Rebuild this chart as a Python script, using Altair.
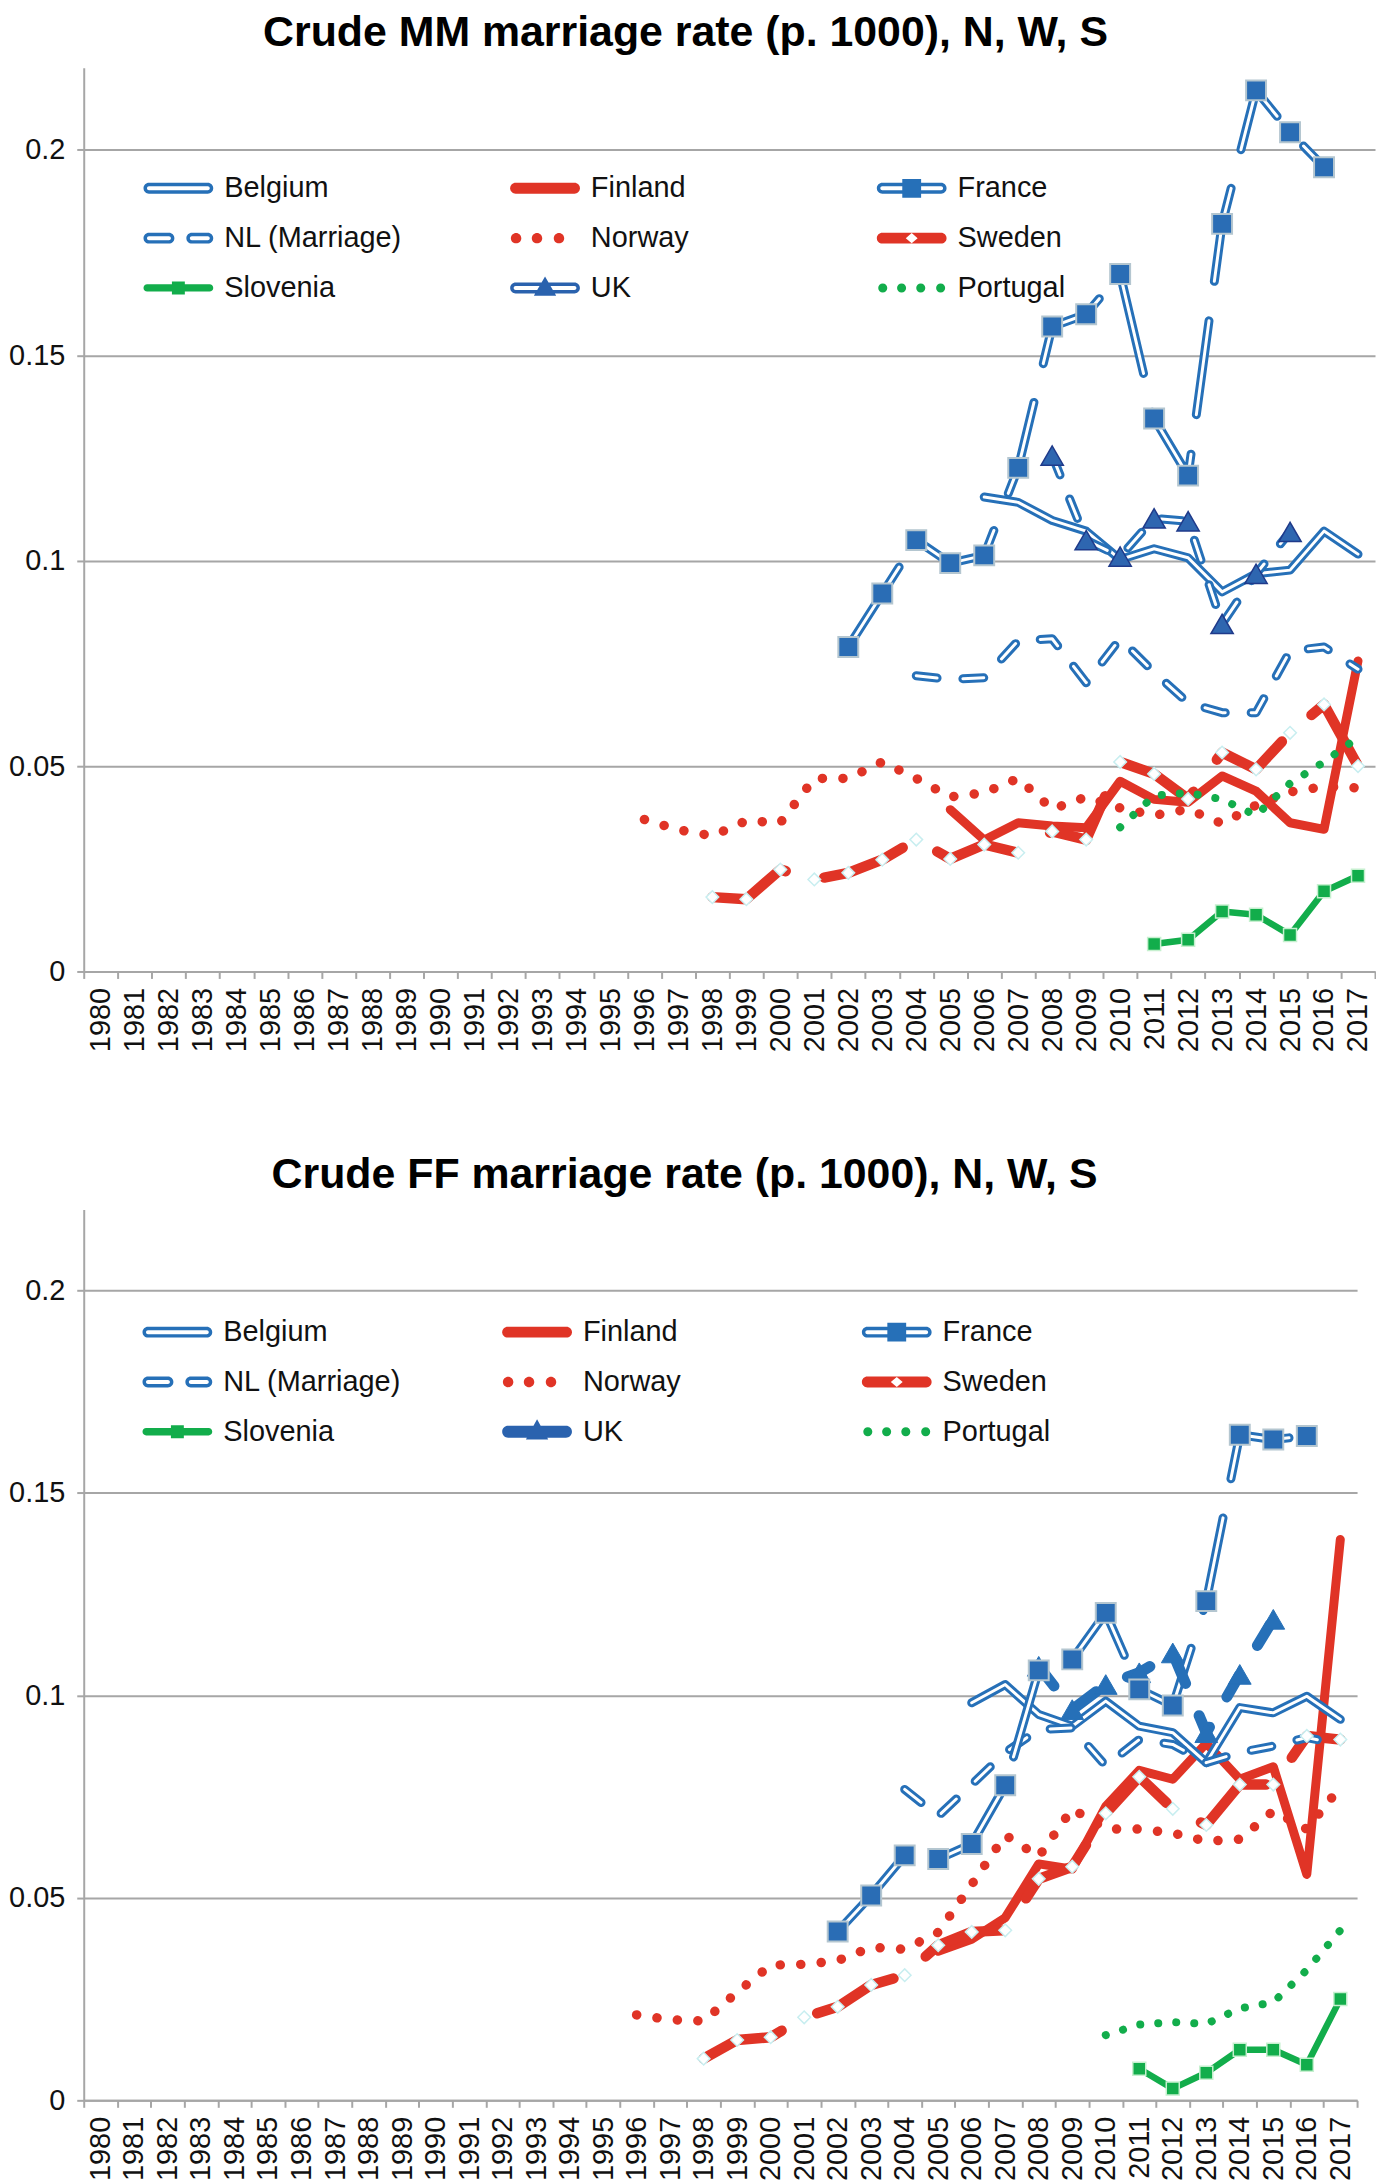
import altair as alt
import pandas as pd

FONT = "Liberation Sans, Arial, Helvetica, sans-serif"
BLUE = "#2670B8"
RED = "#E03426"
GREEN = "#12AD4B"
GRID = "#A6A6A6"

years = list(range(1980, 2018))
# legend order (filled column by column: Belgium/NL/Slovenia, Finland/Norway/UK, France/Sweden/Portugal)
series_order = ["Belgium", "NL (Marriage)", "Slovenia", "Finland", "Norway", "UK",
                "France", "Sweden", "Portugal"]

# ---------- Crude MM marriage rate (values per series, first year given) ----------
mm_start = {"Belgium": 2006, "France": 2002, "NL (Marriage)": 2004, "UK": 2008,
            "Finland": 2005, "Norway": 1996, "Sweden": 1998, "Slovenia": 2011,
            "Portugal": 2010}
mm_belgium = [0.1155, 0.1142, 0.1098, 0.1072, 0.1003, 0.1029, 0.1007, 0.0924,
              0.0968, 0.0977, 0.1072, 0.1016]
mm_france = [0.079, 0.092, 0.105, 0.0994, 0.1013, 0.1226, 0.157, 0.160, 0.1698,
             0.1346, 0.1207, 0.182, 0.2145, 0.2043, 0.1958]
mm_nl = [0.072, 0.0711, 0.0715, 0.0805, 0.081, 0.0703, 0.081, 0.0728, 0.0654,
         0.063, 0.063, 0.078, 0.079, 0.0736]
mm_uk = [0.1256, 0.105, 0.101, 0.1103, 0.1096, 0.0846, 0.0968, 0.107]
mm_finland = [0.0394, 0.032, 0.0362, 0.0354, 0.035, 0.0463, 0.0419, 0.0412,
              0.0476, 0.0439, 0.0362, 0.0346, 0.0756]
mm_norway = [0.037, 0.0345, 0.033, 0.0367, 0.0362, 0.047, 0.047, 0.051, 0.047,
             0.0425, 0.0435, 0.047, 0.0395, 0.0425, 0.0398, 0.038, 0.0395, 0.036,
             0.0405, 0.0437, 0.045, 0.0447]
mm_sweden = [0.0181, 0.0176, 0.0248, 0.0224, 0.024, 0.0272, 0.0321, 0.0274,
             0.0309, 0.0289, 0.0341, 0.0321, 0.051, 0.0481, 0.042, 0.0533, 0.0492,
             0.0581, 0.065, 0.050]
mm_slovenia = [0.0067, 0.0077, 0.0146, 0.0138, 0.0089, 0.0195, 0.0233]
mm_portugal = [0.0351, 0.0428, 0.0435, 0.0419, 0.038, 0.0458, 0.051, 0.057]

# ---------- Crude FF marriage rate ----------
ff_start = dict(mm_start)
ff_belgium = [0.0982, 0.1027, 0.0953, 0.0924, 0.0986, 0.0924, 0.0908, 0.0834,
              0.097, 0.0957, 0.0998, 0.0941]
ff_france = [0.0417, 0.0506, 0.0605, 0.0596, 0.0633, 0.0778, 0.1062, 0.1089,
             0.1204, 0.1015, 0.0975, 0.1233, 0.1644, 0.1632, 0.1641]
ff_nl = [0.0768, 0.0702, 0.078, 0.0859, 0.0916, 0.092, 0.0826, 0.0891, 0.0879,
         0.0834, 0.0859, 0.0875, 0.0896, 0.0879]
ff_uk = [0.1072, 0.0965, 0.1027, 0.1056, 0.1105, 0.0908, 0.1052, 0.1188]
ff_finland = [0.0368, 0.0398, 0.0451, 0.0584, 0.0571, 0.0726, 0.0815, 0.0793,
              0.0882, 0.0793, 0.0824, 0.0558, 0.1385]
ff_norway = [0.0211, 0.0199, 0.0196, 0.0267, 0.0334, 0.0336, 0.0345, 0.0378,
             0.0373, 0.0415, 0.0533, 0.0655, 0.0602, 0.072, 0.067, 0.067, 0.066,
             0.064, 0.0645, 0.0715, 0.067, 0.0774]
ff_sweden = [0.0103, 0.0149, 0.0156, 0.0205, 0.0231, 0.0285, 0.0309, 0.0383,
             0.0416, 0.042, 0.0547, 0.0577, 0.0709, 0.0799, 0.072, 0.068, 0.078,
             0.078, 0.090, 0.0891]
ff_slovenia = [0.0078, 0.0029, 0.0068, 0.0125, 0.0125, 0.0088, 0.025]
ff_portugal = [0.0161, 0.0187, 0.0193, 0.0189, 0.0227, 0.0242, 0.0322, 0.042]

mm_values = {"Belgium": mm_belgium, "France": mm_france, "NL (Marriage)": mm_nl,
             "UK": mm_uk, "Finland": mm_finland, "Norway": mm_norway,
             "Sweden": mm_sweden, "Slovenia": mm_slovenia, "Portugal": mm_portugal}
ff_values = {"Belgium": ff_belgium, "France": ff_france, "NL (Marriage)": ff_nl,
             "UK": ff_uk, "Finland": ff_finland, "Norway": ff_norway,
             "Sweden": ff_sweden, "Slovenia": ff_slovenia, "Portugal": ff_portugal}


def long_df(values, starts):
    rows = []
    for s, vals in values.items():
        for i, v in enumerate(vals):
            rows.append({"series": s, "year": starts[s] + i, "value": v})
    return pd.DataFrame(rows)


# ---------- legend symbol shapes (unit square -1..1) ----------
def n(v):
    return f"{v:.4f}"


def rrect(x0, x1, H, cw=True):
    if cw:
        return (f"M{n(x0+H)},{n(-H)}L{n(x1-H)},{n(-H)}A{n(H)},{n(H)},0,0,1,{n(x1-H)},{n(H)}"
                f"L{n(x0+H)},{n(H)}A{n(H)},{n(H)},0,0,1,{n(x0+H)},{n(-H)}Z")
    return (f"M{n(x0+H)},{n(-H)}A{n(H)},{n(H)},0,0,0,{n(x0+H)},{n(H)}L{n(x1-H)},{n(H)}"
            f"A{n(H)},{n(H)},0,0,0,{n(x1-H)},{n(-H)}Z")


def ring(x0, x1, H=0.157, h=0.057):
    return rrect(x0, x1, H, True) + rrect(x0 + (H - h), x1 - (H - h), h, False)


def circle(cx, r):
    return f"M{n(cx-r)},0A{n(r)},{n(r)},0,1,1,{n(cx+r)},0A{n(r)},{n(r)},0,1,1,{n(cx-r)},0Z"


def square(a):
    return f"M{n(-a)},{n(-a)}L{n(a)},{n(-a)}L{n(a)},{n(a)}L{n(-a)},{n(a)}Z"


def diamond_hole(a, b):
    return f"M0,{n(-a)}L{n(-b)},0L0,{n(a)}L{n(b)},0Z"


def triangle(top, bottom, b):
    return f"M0,{n(top)}L{n(b)},{n(bottom)}L{n(-b)},{n(bottom)}Z"


def legend_shapes(uk_shape):
    shapes = {
        "Belgium": ring(-1, 1),
        "Finland": rrect(-1, 1, 0.157),
        "France": ring(-1, 1) + square(0.27),
        "NL (Marriage)": ring(-1, -0.114) + ring(0.229, 1),
        "Norway": circle(-0.83, 0.15) + circle(-0.23, 0.15) + circle(0.40, 0.15),
        "Sweden": rrect(-1, 1, 0.157) + diamond_hole(0.145, 0.17),
        "Slovenia": rrect(-1, 1, 0.105) + square(0.185),
        "UK": uk_shape,
        "Portugal": circle(-0.83, 0.13) + circle(-0.29, 0.13) + circle(0.26, 0.13)
        + circle(0.83, 0.13),
    }
    return [shapes[s] for s in series_order]


legend_color_map = {"Belgium": BLUE, "Finland": RED, "France": BLUE, "NL (Marriage)": BLUE,
                    "Norway": RED, "Sweden": RED, "Slovenia": GREEN, "UK": "#2A62AE",
                    "Portugal": GREEN}
legend_colors = [legend_color_map[s] for s in series_order]


def make_chart(df, title, width, height, dx, offset, legx, legy, colpad, uk_style):
    x_axis = alt.Axis(title=None, labelAngle=270, labelFont=FONT, labelFontSize=29,
                      labelColor="#111", tickBand="extent", tickSize=7, tickWidth=2,
                      tickColor=GRID, domainColor=GRID, domainWidth=2, labelPadding=9,
                      grid=False, labelAlign="right", labelBaseline="middle")
    y_axis = alt.Axis(title=None, values=[0, 0.05, 0.1, 0.15, 0.2], format="~g",
                      labelFont=FONT, labelFontSize=29, labelColor="#111",
                      grid=True, gridColor=GRID, gridWidth=2, tickSize=7, tickWidth=2,
                      tickColor=GRID, domainColor=GRID, domainWidth=2, labelPadding=12,
                      minExtent=75, maxExtent=75)
    X = alt.X("year:O", scale=alt.Scale(type="band", domain=years, paddingInner=0,
                                        paddingOuter=0), axis=x_axis)
    Y = alt.Y("value:Q", scale=alt.Scale(domain=[0, 0.22], nice=False), axis=y_axis)
    base = alt.Chart(df).encode(x=X, y=Y)

    def sel(s):
        return base.transform_filter(alt.datum.series == s)

    def line(s, color, width, dash=None):
        kw = dict(color=color, strokeWidth=width, strokeCap="round", strokeJoin="round")
        if dash:
            kw["strokeDash"] = dash
        return sel(s).mark_line(**kw)

    def pts(s, shape, size, fill, stroke, sw):
        return sel(s).mark_point(shape=shape, size=size, filled=True, fill=fill,
                                 stroke=stroke, strokeWidth=sw, opacity=1)

    layers = [
        line("Finland", RED, 9),
        line("Norway", RED, 9.5, [0.1, 20.5]),
        line("Sweden", RED, 10.5, [85, 40]),
        line("Portugal", GREEN, 8, [0.1, 18]),
        line("Slovenia", GREEN, 6.5),
        line("Belgium", BLUE, 9), line("Belgium", "white", 3),
        line("NL (Marriage)", BLUE, 9, [21, 26]), line("NL (Marriage)", "white", 3, [21, 26]),
        line("France", BLUE, 9, [95, 40]), line("France", "white", 3, [95, 40]),
    ]
    if uk_style == "double":
        layers += [line("UK", BLUE, 9, [21, 26]), line("UK", "white", 3, [21, 26]),
                   pts("UK", "triangle-up", 500, "#2E66B0", "#1F3A8A", 1.5)]
        uk_shape = ring(-1, 1) + triangle(-0.33, 0.22, 0.32)
    else:
        layers += [line("UK", BLUE, 11, [25, 35]),
                   pts("UK", "triangle-up", 520, BLUE, BLUE, 1)]
        uk_shape = rrect(-1, 1, 0.17) + triangle(-0.36, 0.22, 0.32)
    layers += [
        pts("France", "square", 400, "#2A6DB5", "#B4C6D0", 2),
        pts("Sweden", "diamond", 160, "white", "#C8EEF0", 1.5),
        pts("Slovenia", "square", 170, GREEN, "#C6F0CF", 1.5),
    ]

    leg = alt.Legend(title=None, orient="none", legendX=legx, legendY=legy, columns=3,
                     gridAlign="all", columnPadding=colpad, rowPadding=-2.4,
                     symbolSize=4900, symbolStrokeWidth=0, symbolOpacity=1,
                     labelFont=FONT, labelFontSize=29, labelColor="#111",
                     labelOffset=11, padding=0, labelLimit=500)
    legend_layer = alt.Chart(df).transform_filter("datum.value < 0").mark_point(
        filled=True, opacity=1).encode(
        x=X, y=Y,
        color=alt.Color("series:N", scale=alt.Scale(domain=series_order, range=legend_colors),
                        legend=leg),
        shape=alt.Shape("series:N", scale=alt.Scale(domain=series_order,
                                                    range=legend_shapes(uk_shape)),
                        legend=leg),
    )
    layers.append(legend_layer)

    return alt.layer(*layers).properties(
        width=width, height=height,
        title=alt.TitleParams(title, font=FONT, fontSize=43, fontWeight="bold",
                              color="#000", anchor="middle", offset=offset, dx=dx),
    )


top = make_chart(long_df(mm_values, mm_start), "Crude MM marriage rate (p. 1000), N, W, S",
                 1296, 907, -44, 13, 60, 86, 108, "double")
bottom = make_chart(long_df(ff_values, ff_start), "Crude FF marriage rate (p. 1000), N, W, S",
                    1278, 894, -36, 13, 59, 88, 101, "solid")

chart = alt.vconcat(top, bottom, spacing=102).resolve_scale(
    color="independent", shape="independent").resolve_legend(
    color="independent", shape="independent").configure_view(stroke=None).properties(
    padding=0, background="white")

chart.save("out.html", embed_options={"renderer": "svg", "actions": False})
